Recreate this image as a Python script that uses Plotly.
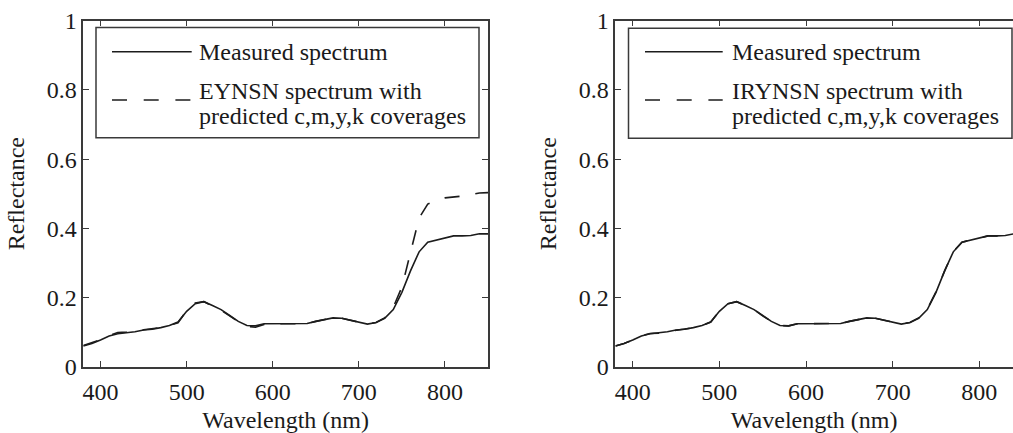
import plotly.graph_objects as go

W, H = 1013, 433

# ---------------- data ----------------
wavelength = [380, 390, 400, 410, 420, 430, 440, 450, 460, 470, 480, 490,
              500, 510, 520, 530, 540, 550, 560, 570, 580, 590, 600, 610,
              620, 630, 640, 650, 660, 670, 680, 690, 700, 710, 720, 730,
              740, 750, 760, 770, 780, 790, 800, 810, 820, 830, 840, 850]

measured = [0.060, 0.067, 0.077, 0.089, 0.095, 0.097, 0.101, 0.106, 0.108, 0.113, 0.119, 0.129,
            0.160, 0.182, 0.188, 0.177, 0.165, 0.148, 0.131, 0.119, 0.118, 0.124, 0.124, 0.124,
            0.124, 0.124, 0.125, 0.131, 0.137, 0.141, 0.140, 0.134, 0.128, 0.123, 0.128, 0.140,
            0.165, 0.215, 0.277, 0.332, 0.360, 0.366, 0.373, 0.378, 0.378, 0.379, 0.384, 0.384]

eynsn = [0.061, 0.069, 0.078, 0.090, 0.099, 0.100, 0.102, 0.107, 0.110, 0.113, 0.119, 0.127,
         0.162, 0.184, 0.188, 0.176, 0.163, 0.147, 0.130, 0.117, 0.114, 0.122, 0.124, 0.124,
         0.124, 0.124, 0.125, 0.131, 0.137, 0.141, 0.140, 0.134, 0.128, 0.123, 0.128, 0.141,
         0.172, 0.230, 0.330, 0.430, 0.470, 0.482, 0.488, 0.490, 0.493, 0.497, 0.502, 0.503]

irynsn = [0.060, 0.067, 0.077, 0.089, 0.096, 0.097, 0.101, 0.106, 0.109, 0.113, 0.119, 0.129,
          0.161, 0.182, 0.188, 0.177, 0.165, 0.147, 0.131, 0.119, 0.118, 0.124, 0.124, 0.124,
          0.124, 0.124, 0.125, 0.131, 0.137, 0.141, 0.140, 0.134, 0.128, 0.123, 0.128, 0.141,
          0.166, 0.216, 0.277, 0.333, 0.360, 0.366, 0.373, 0.378, 0.378, 0.379, 0.384, 0.384]

x_ticks = [400, 500, 600, 700, 800]
x_ticktext = ["400", "500", "600", "700", "800"]
y_ticks = [0, 0.2, 0.4, 0.6, 0.8, 1.0]
y_ticktext = ["0", "0.2", "0.4", "0.6", "0.8", "1"]

legend_measured = "Measured spectrum"
legend_left = ["EYNSN spectrum with", "predicted c,m,y,k coverages"]
legend_right = ["IRYNSN spectrum with", "predicted c,m,y,k coverages"]
x_title = "Wavelength (nm)"
y_title = "Reflectance"

# ---------------- style ----------------
FONT = "Liberation Serif, Times New Roman, serif"
FS = 24
TXT_C = "#1a1a1a"
LINE_C = "#1c1c1c"
AX_C = "#3a3a3a"
DASH = "15px,16px"


def px(x):
    return x / W


def py(y):
    return 1 - y / H


fig = go.Figure()
fig.add_trace(go.Scatter(x=wavelength, y=measured, mode="lines", name=legend_measured,
                         line=dict(color=LINE_C, width=1.6), xaxis="x", yaxis="y", showlegend=False))
fig.add_trace(go.Scatter(x=wavelength, y=eynsn, mode="lines", name=" ".join(legend_left),
                         line=dict(color=LINE_C, width=1.6, dash=DASH), xaxis="x", yaxis="y", showlegend=False))
fig.add_trace(go.Scatter(x=wavelength, y=measured, mode="lines", name=legend_measured,
                         line=dict(color=LINE_C, width=1.6), xaxis="x2", yaxis="y2", showlegend=False))
fig.add_trace(go.Scatter(x=wavelength, y=irynsn, mode="lines", name=" ".join(legend_right),
                         line=dict(color=LINE_C, width=1.6, dash=DASH), xaxis="x2", yaxis="y2", showlegend=False))

ydom = [py(366.7), py(20.7)]
common_ax = dict(showgrid=False, zeroline=False, showline=True, linecolor=AX_C, linewidth=1.5,
                 ticks="inside", ticklen=6, tickwidth=1.2, tickcolor=AX_C,
                 tickfont=dict(family=FONT, size=FS, color=TXT_C), automargin=False)

fig.update_layout(
    width=W, height=H,
    margin=dict(l=0, r=0, t=0, b=0),
    paper_bgcolor="white", plot_bgcolor="white",
    font=dict(family=FONT, size=FS, color=TXT_C),
    showlegend=False,
    xaxis=dict(domain=[px(83.3), px(488)], range=[380, 850], tickvals=x_ticks, ticktext=x_ticktext,
               mirror="ticks", anchor="y", ticklabelstandoff=3,
               title=dict(text=x_title, font=dict(family=FONT, size=FS, color=TXT_C)), **common_ax),
    yaxis=dict(domain=ydom, range=[0, 1], tickvals=y_ticks, ticktext=y_ticktext,
               mirror="ticks", anchor="x",
               title=dict(text=y_title, font=dict(family=FONT, size=FS, color=TXT_C)), **common_ax),
    xaxis2=dict(domain=[px(615.4), 1.0], range=[380, 838.9], tickvals=x_ticks, ticktext=x_ticktext,
                mirror="ticks", anchor="y2", ticklabelstandoff=3,
                title=dict(text=x_title, font=dict(family=FONT, size=FS, color=TXT_C)), **common_ax),
    yaxis2=dict(domain=ydom, range=[0, 1], tickvals=y_ticks, ticktext=y_ticktext,
                mirror=False, anchor="x2",
                title=dict(text=y_title, font=dict(family=FONT, size=FS, color=TXT_C)), **common_ax),
)

# ---------------- hand-drawn legends (MATLAB-style box) ----------------
shapes = []
annotations = []


def legend_box(x0, x1, y0, y1, sx0, sx1, tx, lines2):
    shapes.append(dict(type="rect", xref="paper", yref="paper", x0=px(x0), x1=px(x1),
                       y0=py(y1), y1=py(y0), line=dict(color=AX_C, width=1.5), fillcolor="white",
                       layer="above"))
    shapes.append(dict(type="line", xref="paper", yref="paper", x0=px(sx0), x1=px(sx1),
                       y0=py(51.7), y1=py(51.7), line=dict(color=LINE_C, width=1.6), layer="above"))
    shapes.append(dict(type="line", xref="paper", yref="paper", x0=px(sx0), x1=px(sx1),
                       y0=py(100), y1=py(100), line=dict(color=LINE_C, width=1.6, dash="15px,16.7px"),
                       layer="above"))
    annotations.append(dict(xref="paper", yref="paper", x=px(tx), y=py(52), xanchor="left",
                            yanchor="middle", text=legend_measured, showarrow=False,
                            font=dict(family=FONT, size=FS, color=TXT_C)))
    annotations.append(dict(xref="paper", yref="paper", x=px(tx), y=py(91), xanchor="left",
                            yanchor="middle", text=lines2[0], showarrow=False,
                            font=dict(family=FONT, size=FS, color=TXT_C)))
    annotations.append(dict(xref="paper", yref="paper", x=px(tx), y=py(116), xanchor="left",
                            yanchor="middle", text=lines2[1], showarrow=False,
                            font=dict(family=FONT, size=FS, color=TXT_C)))


legend_box(96, 479, 27.5, 137.7, 112, 191.7, 197, legend_left)
legend_box(628.5, 1012, 28.3, 138.3, 645, 722.7, 730, legend_right)

fig.update_layout(shapes=shapes, annotations=annotations)

fig.write_html("out.html")
